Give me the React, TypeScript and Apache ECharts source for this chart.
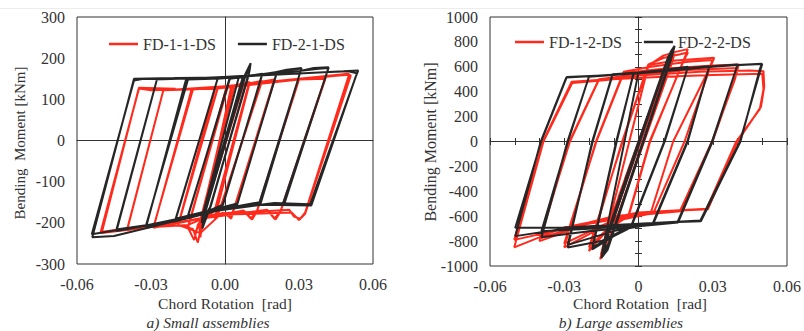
import React, { useEffect, useRef } from "react";
import * as echarts from "echarts";

type P = [number, number];

// ---------- a) Small assemblies ----------
const xTicksA = [-0.06, -0.03, 0, 0.03, 0.06];
const yTicksA = [-300, -200, -100, 0, 100, 200, 300];

const FD_1_1_DS: P[] = [
  [0, 0], [0.0035, 70], [-0.0036, -78], [0.0036, 72], [-0.0037, -80], [0.0037, 74], [-0.0038, -82],
  [0.005, 100], [-0.0052, -112], [0.0051, 102], [-0.0053, -115], [0.0052, 104], [-0.0054, -117],
  [0.0072, 135], [-0.0078, -165], [0.0074, 138], [-0.008, -168], [0.0075, 136], [-0.0082, -172],
  [0.007, 132], [0.01, 140], [-0.003, -160], [-0.008, -185], [-0.0095, -215], [-0.01, -200],
  [0.003, 132], [0.01, 142], [-0.003, -162], [-0.009, -195], [-0.01, -235], [-0.0105, -205],
  [0.004, 134], [0.0098, 141], [-0.004, -165], [-0.0092, -200], [-0.0102, -220],
  [0.0025, 130], [0.015, 145], [-0.002, -168], [-0.004, -188], [-0.007, -172], [-0.011, -205], [-0.0125, -242], [-0.015, -212],
  [0.001, 128], [0.008, 135], [0.015, 144], [-0.002, -165], [-0.005, -186], [-0.008, -175], [-0.012, -222], [-0.015, -210],
  [0.0005, 128], [0.01, 138], [0.02, 148], [0.0035, -170], [0.0025, -190], [0, -176], [-0.009, -190], [-0.011, -248], [-0.013, -215], [-0.019, -206],
  [-0.003, 126], [0.008, 136], [0.02, 146], [0.0035, -168], [0.002, -186], [-0.001, -175], [-0.01, -225], [-0.019, -205],
  [-0.004, 125], [0.01, 138], [0.02, 144], [0.03, 150], [0.013, -172], [0.011, -192], [0.008, -172], [-0.005, -180], [-0.015, -205], [-0.029, -210],
  [-0.013, 124], [0, 130], [0.015, 142], [0.03, 148], [0.013, -170], [0.0105, -190], [0.0075, -170], [-0.01, -190], [-0.029, -212],
  [-0.0135, 125], [-0.005, 125], [0.01, 135], [0.03, 148], [0.0408, 152], [0.0225, -173], [0.0205, -192], [0.0175, -170], [0, -178], [-0.02, -200], [-0.0397, -216],
  [-0.025, 122], [-0.015, 124], [0.01, 137], [0.03, 148], [0.0405, 150], [0.0225, -172], [0.02, -190], [0.017, -168], [-0.01, -190], [-0.03, -208], [-0.0397, -218],
  [-0.025, 122], [-0.015, 125], [0.01, 136], [0.03, 148], [0.045, 157], [0.0503, 160], [0.0325, -175], [0.0305, -190], [0.028, -185], [0.026, -168], [0, -178], [-0.02, -200], [-0.04, -214], [-0.0504, -222],
  [-0.0349, 126], [-0.03, 122], [-0.02, 124], [0, 132], [0.03, 150], [0.05, 162], [0.051, 158], [0.0325, -178], [0.03, -193], [0.027, -175], [0, -180], [-0.03, -210], [-0.05, -225], [-0.0349, 128], [-0.02, 126],
];

const FD_2_1_DS: P[] = [
  [0, 0], [0.0038, 78], [-0.0036, -80], [0.0039, 80], [-0.0037, -83], [0.004, 82], [-0.0038, -85],
  [0.0052, 108], [-0.0051, -112], [0.0053, 110], [-0.0052, -115], [0.0054, 112], [-0.0053, -117],
  [0.0076, 152], [-0.0075, -162], [0.0077, 155], [-0.0076, -166], [0.0078, 156], [-0.0077, -168],
  [0.0082, 158], [-0.0079, -170], [0.0084, 160], [-0.0081, -172],
  [0.0065, 140], [0.0104, 188], [0.0099, 168], [0.0092, 150], [-0.006, -162], [-0.0092, -214], [-0.0086, -185], [-0.0079, -170],
  [0.007, 150], [0.0102, 178], [0.0096, 160], [-0.0062, -165], [-0.0095, -200], [-0.0088, -178],
  [0.0072, 152], [0.0100, 172], [-0.0058, -160], [-0.0094, -195], [-0.009, -180],
  [0.0055, 152], [0.01, 158], [0.0152, 162], [-0.001, -158], [-0.008, -175], [-0.0152, -186],
  [0.002, 150], [0.008, 155], [0.015, 160], [-0.0008, -156], [-0.008, -174], [-0.015, -184],
  [0.0018, 150], [0.01, 156], [0.021, 166], [0.005, -155], [-0.005, -170], [-0.013, -182], [-0.02, -192],
  [-0.003, 150], [0.006, 154], [0.015, 160], [0.021, 164], [0.005, -153], [-0.005, -168], [-0.02, -190],
  [-0.003, 150], [0.01, 157], [0.02, 165], [0.025, 172], [0.031, 176], [0.0145, -152], [0.005, -160], [-0.005, -172], [-0.02, -195], [-0.032, -206],
  [-0.015, 148], [-0.005, 150], [0.01, 156], [0.025, 170], [0.031, 175], [0.014, -150], [0, -165], [-0.02, -194], [-0.032, -210],
  [-0.0158, 148], [-0.008, 152], [0.01, 158], [0.03, 168], [0.036, 176], [0.042, 178], [0.024, -155], [0.01, -157], [-0.005, -172], [-0.025, -200], [-0.044, -216],
  [-0.0276, 148], [-0.02, 150], [-0.005, 152], [0.02, 162], [0.038, 174], [0.042, 176], [0.0235, -153], [0.005, -160], [-0.015, -185], [-0.035, -210], [-0.044, -220],
  [-0.0276, 148], [-0.02, 152], [0, 153], [0.02, 160], [0.04, 166], [0.05, 168], [0.0535, 163], [0.0345, -155], [0.02, -152], [0, -166], [-0.02, -196], [-0.04, -214], [-0.054, -228],
  [-0.0369, 146], [-0.033, 150], [-0.025, 149], [-0.01, 152], [0.01, 157], [0.03, 163], [0.048, 168], [0.054, 170], [0.053, 155], [0.035, -158], [0.015, -156], [-0.005, -172], [-0.03, -210], [-0.045, -232], [-0.0538, -235],
  [-0.0369, 150], [-0.02, 152], [0, 152],
];

// ---------- b) Large assemblies ----------
const xTicksB = [-0.06, -0.03, 0, 0.03, 0.06];
const yTicksB = [-1000, -800, -600, -400, -200, 0, 200, 400, 600, 800, 1000];

const FD_1_2_DS: P[] = [
  [0, 0], [0.0035, 190], [-0.0036, -200], [0.0036, 195], [-0.0037, -205],
  [0.0052, 280], [-0.0055, -300], [0.0053, 285], [-0.0056, -305],
  [0.0078, 420], [-0.0082, -450], [0.008, 430], [-0.0083, -460],
  [0.0105, 560], [-0.011, -610], [0.0108, 575], [-0.0112, -620], [0.011, 585], [-0.0115, -640],
  [0.013, 680], [0.0145, 705], [0.0138, 650], [-0.013, -860], [-0.0155, -945], [-0.0145, -870],
  [0.0125, 660], [0.014, 690], [0.0132, 620], [-0.0128, -840], [-0.0152, -910], [-0.0142, -830],
  [0.004, 610], [0.01, 690], [0.015, 720], [0.0199, 742], [0.019, 690], [0.0047, 0], [-0.004, -600], [-0.012, -700], [-0.02, -880],
  [-0.0066, 0], [0.004, 620], [0.01, 670], [0.02, 715], [0.0185, 660], [0.0045, 0], [-0.004, -590], [-0.012, -690], [-0.02, -850],
  [-0.0064, 0], [0.004, 615], [0.015, 650], [0.0306, 672], [0.029, 600], [0.0186, 0], [0.006, -575], [-0.01, -640], [-0.03, -850],
  [-0.0172, 0], [-0.006, 560], [0.005, 600], [0.02, 640], [0.03, 655], [0.028, 560], [0.014, 0], [0.005, -570], [-0.01, -630], [-0.03, -820],
  [-0.017, 0], [-0.006, 550], [0.01, 585], [0.03, 610], [0.0405, 618], [0.0395, 540], [0.0299, 0], [0.017, -560], [0, -590], [-0.02, -660], [-0.04, -800],
  [-0.0279, 0], [-0.016, 500], [0, 540], [0.02, 575], [0.04, 590], [0.039, 500], [0.0297, 0], [0.0168, -555], [0, -580], [-0.02, -650], [-0.04, -780],
  [-0.0277, 0], [-0.016, 495], [0, 530], [0.025, 560], [0.045, 570], [0.0505, 565], [0.0508, 440], [0.0495, 280], [0.04, 0], [0.028, -545], [0.01, -560], [-0.01, -600], [-0.03, -700], [-0.0502, -790],
  [-0.0386, 0], [-0.027, 480], [-0.015, 495], [0.01, 520], [0.03, 535], [0.05, 545], [0.0505, 420], [0.049, 260], [0.0395, 0], [0.0275, -540], [0, -570], [-0.03, -690], [-0.0502, -850],
  [-0.0384, 0], [-0.0268, 470], [-0.015, 490], [0, 520],
];

const FD_2_2_DS: P[] = [
  [0, 0], [0.0035, 200], [-0.0035, -205], [0.0036, 205], [-0.0036, -210],
  [0.0052, 295], [-0.0053, -305], [0.0053, 300], [-0.0054, -310],
  [0.0078, 445], [-0.008, -465], [0.0079, 450], [-0.0081, -470],
  [0.0105, 600], [-0.0108, -630], [0.0106, 605], [-0.0109, -640], [0.0108, 612], [-0.0112, -655],
  [0.013, 720], [0.0146, 768], [0.0136, 690], [-0.0125, -870], [-0.015, -935], [-0.014, -860],
  [0.0122, 690], [0.014, 730], [0.013, 650], [-0.0125, -850], [-0.0148, -905], [-0.014, -820],
  [0.0118, 670], [0.0135, 700], [-0.012, -820], [-0.0145, -880], [-0.0138, -800],
  [0, 555], [0.01, 575], [0.02, 600], [0.0106, 0], [-0.003, -690], [-0.01, -760], [-0.0187, -867],
  [-0.0088, 0], [-0.002, 550], [0.01, 570], [0.02, 598], [0.0104, 0], [-0.003, -680], [-0.012, -780], [-0.0186, -850],
  [-0.009, 0], [-0.002, 545], [0.01, 565], [0.02, 590], [0.0286, 605], [0.0199, 0], [0.006, -660], [-0.005, -700], [-0.015, -800], [-0.0286, -851],
  [-0.0187, 0], [-0.0105, 540], [0, 555], [0.015, 580], [0.0286, 600], [0.0197, 0], [0.0058, -655], [-0.01, -720], [-0.0286, -830],
  [-0.0185, 0], [-0.0105, 535], [0, 552], [0.02, 590], [0.04, 618], [0.0299, 0], [0.016, -650], [0, -680], [-0.02, -720], [-0.0392, -770],
  [-0.0287, 0], [-0.02, 520], [-0.01, 535], [0.01, 565], [0.03, 600], [0.04, 615], [0.0297, 0], [0.0158, -645], [0, -670], [-0.02, -700], [-0.0392, -720],
  [-0.0285, 0], [-0.02, 522], [-0.01, 535], [0.01, 568], [0.03, 605], [0.0498, 624], [0.049, 580], [0.0412, 0], [0.0252, -640], [0.01, -650], [-0.01, -680], [-0.03, -700], [-0.0498, -760],
  [-0.0395, 0], [-0.0292, 514], [-0.02, 525], [0, 550], [0.03, 605], [0.05, 622], [0.0492, 570], [0.041, 0], [0.025, -635], [0, -660], [-0.03, -690], [-0.0498, -693],
  [-0.0393, 0], [-0.029, 518], [-0.015, 530], [0, 548],
];

const RED = "#ff2a1c";
const BLACK = "#262626";
const AXIS = "#333";
const FONT = "Liberation Serif";

export default function App() {
  const ref = useRef<HTMLDivElement>(null);
  useEffect(() => {
    if (!ref.current) return;
    const chart = echarts.init(ref.current, undefined, { renderer: "svg" });

    const labelStyle = { fontSize: 16, color: AXIS, fontFamily: FONT };
    const fmtA = (v: number) => v.toFixed(2);
    const fmtB = (v: number) => (v === 0 ? "0" : v.toFixed(2));
    const fmtY = (v: number) => String(v);

    const labelX = (grid: number, ticks: number[], fmt: (v: number) => string) => ({
      type: "value", gridIndex: grid, position: "bottom",
      min: ticks[0], max: ticks[ticks.length - 1], interval: ticks[1] - ticks[0],
      axisLine: { show: false, onZero: false }, axisTick: { show: false }, splitLine: { show: false },
      axisLabel: { ...labelStyle, margin: 12, formatter: fmt },
    });
    const labelY = (grid: number, ticks: number[]) => ({
      type: "value", gridIndex: grid, position: "left",
      min: ticks[0], max: ticks[ticks.length - 1], interval: ticks[1] - ticks[0],
      axisLine: { show: false, onZero: false }, axisTick: { show: false }, splitLine: { show: false },
      axisLabel: { ...labelStyle, margin: 12, formatter: fmtY },
    });
    const zeroX = (grid: number, ticks: number[], onIdx: number, lineShow: boolean, tick: any) => ({
      type: "value", gridIndex: grid, position: "bottom",
      min: ticks[0], max: ticks[ticks.length - 1], interval: 0.01,
      axisLine: { show: lineShow, onZero: true, onZeroAxisIndex: onIdx, lineStyle: { color: AXIS, width: 1 } },
      axisTick: tick, axisLabel: { show: false }, splitLine: { show: false },
    });
    const zeroY = (grid: number, ticks: number[], onIdx: number, lineShow: boolean, tick: any) => ({
      type: "value", gridIndex: grid, position: "left",
      min: ticks[0], max: ticks[ticks.length - 1], interval: 100,
      axisLine: { show: lineShow, onZero: true, onZeroAxisIndex: onIdx, lineStyle: { color: AXIS, width: 1 } },
      axisTick: tick, axisLabel: { show: false }, splitLine: { show: false },
    });
    const tickOut = { show: true, inside: false, length: 3.5, lineStyle: { color: AXIS, width: 1 } };
    const tickIn = { show: true, inside: true, length: 3.5, lineStyle: { color: AXIS, width: 1 } };

    const line = (name: string, data: P[], color: string, xi: number, yi: number) => ({
      name, type: "line", data, xAxisIndex: xi, yAxisIndex: yi,
      showSymbol: false, symbol: "none", smooth: false, silent: true,
      lineStyle: { color, width: 2 }, itemStyle: { color },
      z: color === BLACK ? 3 : 2,
    });

    const legendBase = {
      icon: "rect", itemWidth: 29, itemHeight: 2.5, itemGap: 22,
      textStyle: { fontSize: 16, color: AXIS, fontFamily: FONT },
      selectedMode: false,
    };

    chart.setOption({
      animation: false,
      backgroundColor: "#ffffff",
      grid: [
        { left: 77, top: 17, width: 296, height: 247, show: true, borderColor: AXIS, borderWidth: 1, backgroundColor: "transparent" },
        { left: 490, top: 17, width: 301, height: 249, show: true, borderColor: AXIS, borderWidth: 1, backgroundColor: "transparent" },
      ],
      xAxis: [
        labelX(0, xTicksA, fmtA),
        zeroX(0, xTicksA, 0, true, { show: false }),
        labelX(1, xTicksB, fmtB),
        zeroX(1, xTicksB, 2, true, tickOut),
        zeroX(1, xTicksB, 2, false, tickIn),
      ],
      yAxis: [
        labelY(0, yTicksA),
        zeroY(0, yTicksA, 0, true, { show: false }),
        labelY(1, yTicksB),
        zeroY(1, yTicksB, 2, true, tickOut),
        zeroY(1, yTicksB, 2, false, tickIn),
      ],
      legend: [
        { ...legendBase, data: ["FD-1-1-DS", "FD-2-1-DS"], left: 104, top: 31 },
        { ...legendBase, data: ["FD-1-2-DS", "FD-2-2-DS"], left: 510, top: 29 },
      ],
      series: [
        line("FD-1-1-DS", FD_1_1_DS, RED, 0, 0),
        line("FD-2-1-DS", FD_2_1_DS, BLACK, 0, 0),
        line("FD-1-2-DS", FD_1_2_DS, RED, 2, 2),
        line("FD-2-2-DS", FD_2_2_DS, BLACK, 2, 2),
      ],
      graphic: [
        { type: "line", shape: { x1: 0, y1: 8.5, x2: 804, y2: 8.5 }, style: { stroke: "#ececec", lineWidth: 1 }, silent: true },
        { type: "text", x: 20, y: 143, rotation: Math.PI / 2, style: { text: "Bending  Moment [kNm]", font: `15px ${FONT}`, fill: AXIS, align: "center", verticalAlign: "middle" } },
        { type: "text", x: 430, y: 142, rotation: Math.PI / 2, style: { text: "Bending Moment [kNm]", font: `16px ${FONT}`, fill: AXIS, align: "center", verticalAlign: "middle" } },
        { type: "text", x: 225, y: 303, style: { text: "Chord Rotation  [rad]", font: `15.5px ${FONT}`, fill: AXIS, align: "center", verticalAlign: "middle" } },
        { type: "text", x: 640, y: 303, style: { text: "Chord Rotation  [rad]", font: `15.5px ${FONT}`, fill: AXIS, align: "center", verticalAlign: "middle" } },
        { type: "text", x: 208, y: 322, style: { text: "a) Small assemblies", font: `italic 15.5px ${FONT}`, fill: AXIS, align: "center", verticalAlign: "middle" } },
        { type: "text", x: 621, y: 322, style: { text: "b) Large assemblies", font: `italic 15.5px ${FONT}`, fill: AXIS, align: "center", verticalAlign: "middle" } },
      ],
    });
    return () => chart.dispose();
  }, []);
  return <div ref={ref} style={{ position: "absolute", left: 0, top: 0, width: 804, height: 331 }} />;
}
